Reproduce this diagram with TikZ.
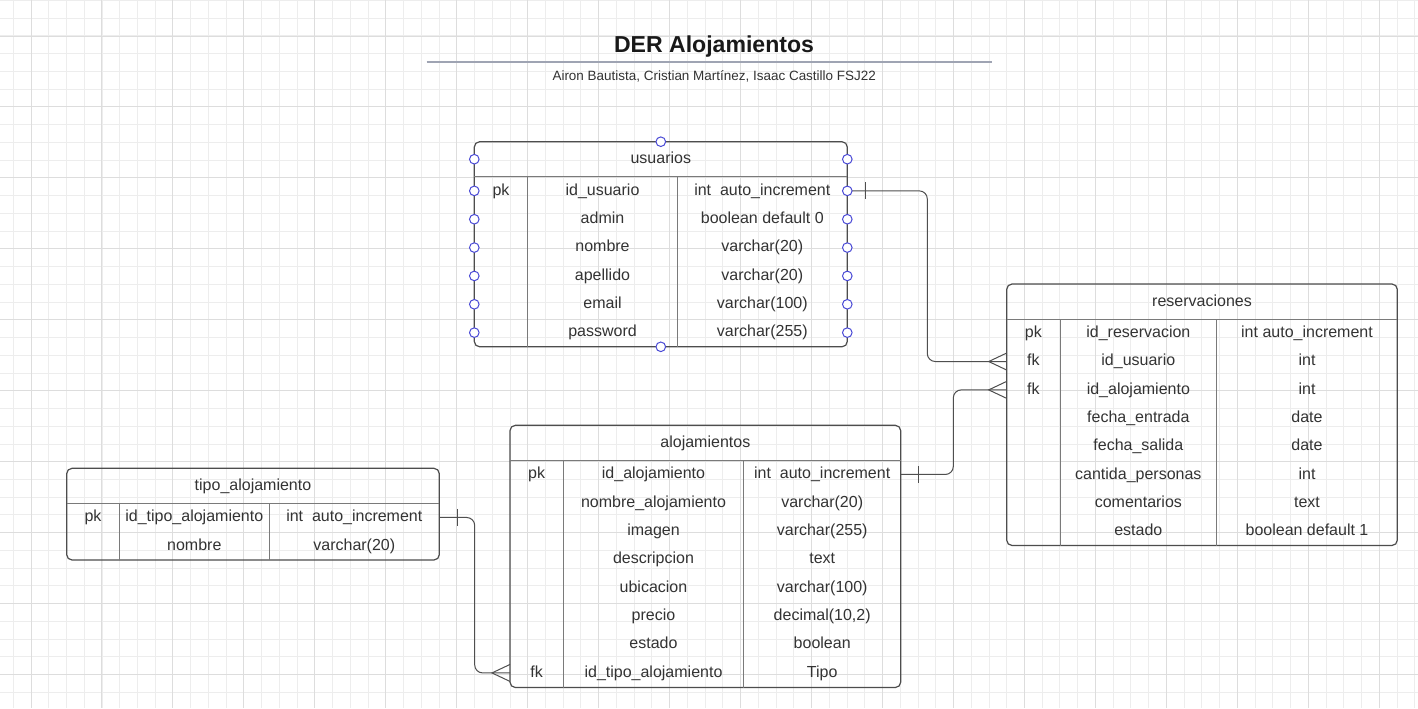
\documentclass[tikz,border=0pt]{standalone}
\usepackage{fontspec}
\setmainfont{Liberation Sans}
\usetikzlibrary{calc,fit}
\definecolor{gridminor}{HTML}{EDEDED}
\definecolor{gridmajor}{HTML}{DDDDDD}
\definecolor{framecol}{HTML}{4D4D4D}
\definecolor{innercol}{HTML}{7A7A7A}
\definecolor{txtcol}{HTML}{333333}
\definecolor{ptblue}{HTML}{4A4AD6}
\definecolor{tline}{HTML}{9FA4B3}
\definecolor{conncol}{HTML}{4F4F4F}
\tikzset{
 gminor/.style={draw=gridminor, line width=0.75pt},
 gmajor/.style={draw=gridmajor, line width=0.75pt},
 tframe/.style={draw=framecol, line width=0.9pt, rounded corners=4pt, inner sep=0pt},
 tinner/.style={draw=innercol, line width=0.75pt},
 cell/.style={anchor=base, inner sep=0pt, text=txtcol, font=\fontsize{12}{14}\selectfont},
 conn/.style={draw=conncol, line width=0.75pt, rounded corners=6pt},
 endmark/.style={draw=conncol, line width=0.75pt},
 handle/.style={circle, draw=ptblue, fill=white, line width=0.75pt, inner sep=0pt, minimum size=7.2pt},
}
\newcommand{\ertable}[9]{%
  \pgfmathsetmacro{\hb}{#3+35}
  \coordinate (#1-nw) at (#2,#3);
  \coordinate (#1-se) at (#4,#5);
  \node[tframe, fit=(#1-nw)(#1-se)] (#1) {};
  \draw[tinner] (#2,\hb) -- (#4,\hb);
  \draw[tinner] (#6,\hb) -- (#6,#5);
  \draw[tinner] (#7,\hb) -- (#7,#5);
  \node[cell] (#1-title) at ({(#2+#4)/2},{#3+17.5+4.5}) {#8};
  \foreach [count=\i] \ka/\kb/\kc in {#9}{
    \pgfmathsetmacro{\yc}{\hb+28.35*(\i-0.5)}
    \coordinate (#1-\i-w) at (#2,\yc);
    \coordinate (#1-\i-e) at (#4,\yc);
    \node[cell] (#1-\i-k) at ({(#2+#6)/2},{\yc+4.3}) {\ka};
    \node[cell] (#1-\i-n) at ({(#6+#7)/2},{\yc+4.3}) {\kb};
    \node[cell] (#1-\i-t) at ({(#7+#4)/2},{\yc+4.3}) {\kc};
  }
}
\begin{document}
\begin{tikzpicture}[x=0.75pt,y=-0.75pt]
\useasboundingbox (0,0) rectangle (1418,708);
\fill[white] (0,0) rectangle (1418,708);
% grid
\foreach \i in {0,...,79}{\draw[gminor] ({13.3+17.74*\i},0) -- ({13.3+17.74*\i},708);}
\foreach \i in {0,...,39}{\draw[gminor] (0,{0.5+17.74*\i}) -- (1418,{0.5+17.74*\i});}
\foreach \i in {0,...,19}{\draw[gmajor] ({31+70.96*\i},0) -- ({31+70.96*\i},708);}
\foreach \i in {0,...,9}{\draw[gmajor] (0,{36+70.96*\i}) -- (1418,{36+70.96*\i});}
% title
\node[anchor=base, inner sep=0pt, text=black!90, font=\bfseries\fontsize{17.3}{20}\selectfont] (title) at (714,52.5) {DER Alojamientos};
\draw[draw=tline, line width=1.5pt] (426.7,61.5) -- (991.7,61.5);
\node[anchor=base, inner sep=0pt, text=txtcol, font=\fontsize{10.1}{12}\selectfont] (subtitle) at (714.2,80) {Airon Bautista, Cristian Martínez, Isaac Castillo FSJ22};
% tables
\ertable{usuarios}{474.3}{141.7}{847.3}{346.8}{527.7}{677.3}{usuarios}{pk/id\_usuario/int\ \ auto\_increment,{}/admin/boolean default 0,{}/nombre/varchar(20),{}/apellido/varchar(20),{}/email/varchar(100),{}/password/varchar(255)}
\ertable{reservaciones}{1006.7}{284}{1397.3}{545.5}{1060}{1216.7}{reservaciones}{pk/id\_reservacion/int auto\_increment,fk/id\_usuario/int,fk/id\_alojamiento/int,{}/fecha\_entrada/date,{}/fecha\_salida/date,{}/cantida\_personas/int,{}/comentarios/text,{}/estado/boolean default 1}
\ertable{alojamientos}{510}{425.3}{900.7}{687.5}{563.3}{743.7}{alojamientos}{pk/id\_alojamiento/int\ \ auto\_increment,{}/nombre\_alojamiento/varchar(20),{}/imagen/varchar(255),{}/descripcion/text,{}/ubicacion/varchar(100),{}/precio/decimal(10{,}2),{}/estado/boolean,fk/id\_tipo\_alojamiento/Tipo}
\ertable{tipo}{66.7}{468.3}{439.3}{560}{119.3}{269.3}{tipo\_alojamiento}{pk/id\_tipo\_alojamiento/int\ \ auto\_increment,{}/nombre/varchar(20)}
% connector routing columns
\coordinate (j1) at (927.3,0);
\coordinate (j2) at (953.3,0);
\coordinate (j3) at (474.7,0);
% connectors
\draw[conn] (usuarios-1-e) -- (usuarios-1-e -| j1) -- (reservaciones-2-w -| j1) -- (reservaciones-2-w);
\draw[conn] (alojamientos-1-e) -- (alojamientos-1-e -| j2) -- (reservaciones-3-w -| j2) -- (reservaciones-3-w);
\draw[conn] (tipo-1-e) -- (tipo-1-e -| j3) -- (alojamientos-8-w -| j3) -- (alojamientos-8-w);
% one bars
\draw[endmark] ($(usuarios-1-e)+(18.4,-8.5)$) -- ($(usuarios-1-e)+(18.4,8.5)$);
\draw[endmark] ($(alojamientos-1-e)+(17.6,-8.5)$) -- ($(alojamientos-1-e)+(17.6,8.5)$);
\draw[endmark] ($(tipo-1-e)+(18,-8.5)$) -- ($(tipo-1-e)+(18,8.5)$);
% crow's feet
\foreach \t in {reservaciones-2-w,reservaciones-3-w,alojamientos-8-w}{
  \draw[endmark] ($(\t)+(0,-8.5)$) -- ($(\t)+(-18,0)$) -- ($(\t)+(0,8.5)$);
}
% handles on usuarios
\foreach \i in {1,...,6}{
  \node[handle] (hl\i) at (usuarios-\i-w) {};
  \node[handle] (hr\i) at (usuarios-\i-e) {};
}
\node[handle] (hlh) at (474.3,159.2) {};
\node[handle] (hrh) at (847.3,159.2) {};
\node[handle] (ht) at (660.8,141.7) {};
\node[handle] (hb) at (660.8,346.8) {};
\end{tikzpicture}
\end{document}
